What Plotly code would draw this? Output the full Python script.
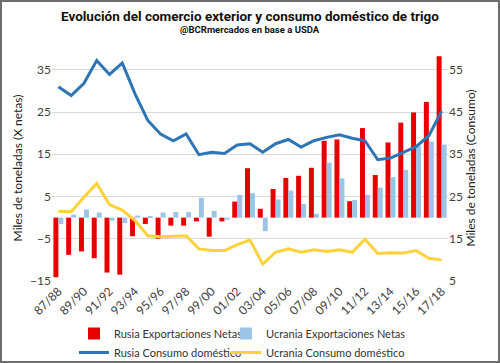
import plotly.graph_objects as go

seasons = ["87/88","88/89","89/90","90/91","91/92","92/93","93/94","94/95","95/96","96/97",
           "97/98","98/99","99/00","00/01","01/02","02/03","03/04","04/05","05/06","06/07",
           "07/08","08/09","09/10","10/11","11/12","12/13","13/14","14/15","15/16","16/17","17/18"]

rusia_export = [-14.1,-8.8,-8.0,-9.6,-13.0,-13.5,-4.4,-1.5,-5.0,-1.9,
                -1.9,-0.9,-4.5,-0.9,3.8,11.7,2.1,6.8,9.4,9.9,
                11.8,18.2,18.5,3.9,21.2,10.1,17.8,22.5,24.9,27.4,38.2]
ucrania_export = [-1.5,0.7,1.9,1.2,-0.7,-1.3,0.5,0.2,1.2,1.3,
                  1.3,4.7,1.6,-0.5,5.4,5.8,-3.2,4.3,6.4,3.2,
                  0.9,13.0,9.3,4.2,5.4,7.1,9.6,11.3,16.9,18.0,17.3]
rusia_consumo = [51.0,48.9,51.8,57.2,53.9,56.6,49.3,43.0,39.8,38.2,
                 39.8,34.9,35.5,35.2,37.2,37.5,35.5,37.5,38.5,36.7,
                 38.2,39.0,39.6,38.8,38.2,33.7,34.1,35.5,36.8,39.4,45.2]
ucrania_consumo = [21.5,21.4,24.8,28.1,23.1,21.8,19.3,15.7,15.5,15.6,
                   15.7,12.6,12.2,12.2,13.6,14.7,9.0,11.8,12.6,11.8,
                   12.4,12.0,12.4,11.8,14.9,11.5,11.7,11.6,12.2,10.4,10.0]

left_ticks = [-15, -5, 5, 15, 25, 35]
right_ticks = [5, 15, 25, 35, 45, 55]
x_ticks = seasons[::2]

txt_font = "Lato, Liberation Sans, sans-serif"
title_font = "Roboto, Liberation Sans, sans-serif"

fig = go.Figure()
fig.add_trace(go.Bar(x=seasons, y=rusia_export, name="Rusia Exportaciones Netas",
                     marker=dict(color="#E80000", line=dict(width=0)), yaxis="y", legend="legend"))
fig.add_trace(go.Bar(x=seasons, y=ucrania_export, name="Ucrania Exportaciones Netas",
                     marker=dict(color="#9DC3E6", line=dict(width=0)), yaxis="y", legend="legend2"))
fig.add_trace(go.Scatter(x=seasons, y=rusia_consumo, name="Rusia Consumo doméstico",
                         mode="lines", line=dict(color="#2E75B6", width=3), yaxis="y2", legend="legend"))
fig.add_trace(go.Scatter(x=seasons, y=ucrania_consumo, name="Ucrania Consumo doméstico",
                         mode="lines", line=dict(color="#FFD23C", width=3), yaxis="y2", legend="legend2"))

L, R, T, B = 52, 52, 55, 82
W, H = 500, 363
pw, ph = W - L - R, H - T - B

def px_x(px):
    return (px - L) / pw

def px_y(py):
    return 1 - (py - T) / ph

leg_common = dict(orientation="v", xanchor="left", yanchor="top", traceorder="normal",
                  font=dict(family=txt_font, size=11, color="#333333"),
                  itemwidth=30, tracegroupgap=0, borderwidth=0, bgcolor="rgba(0,0,0,0)")

fig.update_layout(
    width=W, height=H,
    margin=dict(l=L, r=R, t=T, b=B, autoexpand=False),
    paper_bgcolor="white", plot_bgcolor="white",
    barmode="group", bargap=0.22, bargroupgap=0,
    showlegend=True,
    legend=dict(x=px_x(74), y=px_y(319), **leg_common),
    legend2=dict(x=px_x(226), y=px_y(319), **leg_common),
    xaxis=dict(type="category", tickmode="array", tickvals=x_ticks, ticktext=x_ticks,
               tickangle=-45, showgrid=False, zeroline=False, showline=False,
               ticks="", tickfont=dict(family=txt_font, size=12, color="#404040")),
    yaxis=dict(range=[-15, 38.5], tickvals=left_ticks, showgrid=True, gridcolor="#D9D9D9",
               gridwidth=1, zeroline=False, showline=False, ticks="",
               tickfont=dict(family=txt_font, size=12, color="#404040"),
               title=dict(text="Miles de toneladas (X netas)", standoff=4,
                          font=dict(family=txt_font, size=12, color="#222222"))),
    yaxis2=dict(range=[5, 58.5], tickvals=right_ticks, overlaying="y", side="right",
                showgrid=False, zeroline=False, showline=False, ticks="",
                tickfont=dict(family=txt_font, size=12, color="#404040"),
                title=dict(text="Miles de toneladas (Consumo)", standoff=2,
                           font=dict(family=txt_font, size=12, color="#222222"))),
    annotations=[
        dict(text="<b>Evolución del comercio exterior y consumo doméstico de trigo</b>",
             xref="paper", yref="paper", x=0.5, y=px_y(16), xanchor="center", yanchor="middle",
             showarrow=False, font=dict(family=title_font, size=13.5, color="#111111")),
        dict(text="<b>@BCRmercados en base a USDA</b>",
             xref="paper", yref="paper", x=0.5, y=px_y(30), xanchor="center", yanchor="middle",
             showarrow=False, font=dict(family=title_font, size=9.5, color="#111111")),
    ],
    shapes=[dict(type="rect", xref="paper", yref="paper",
                 x0=px_x(1), x1=px_x(W - 1), y0=px_y(H - 1), y1=px_y(1),
                 line=dict(color="#6E6E6E", width=2), fillcolor="rgba(0,0,0,0)", layer="above")],
)

fig.write_html("out.html", config={"displayModeBar": False},
               post_script="document.body.style.margin='0';document.body.style.padding='0';document.body.style.overflow='hidden';")
